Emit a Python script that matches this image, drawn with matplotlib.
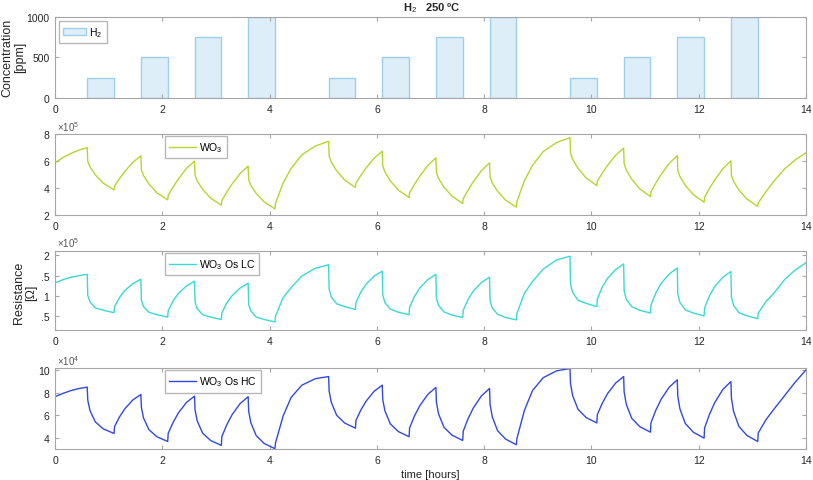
import numpy as np
import matplotlib
matplotlib.use("Agg")
import matplotlib.pyplot as plt

# H2 pulses: start time [h], duration [h], concentration [ppm]
pulse_start = [0.6, 1.6, 2.6, 3.6, 5.1, 6.1, 7.1, 8.1, 9.6, 10.6, 11.6, 12.6]
pulse_len = [0.5] * 12
pulse_ppm = [250, 500, 750, 1000, 250, 500, 750, 1000, 250, 500, 750, 1000]

# sampled time axis [h], shared by the three sensors
time_h = [
    0, 0.15, 0.3, 0.45, 0.6,
    0.61, 0.65, 0.75, 0.9, 1.1,
    1.11, 1.2, 1.3, 1.45, 1.6,
    1.61, 1.65, 1.75, 1.9, 2.1,
    2.11, 2.2, 2.3, 2.45, 2.6,
    2.61, 2.65, 2.75, 2.9, 3.1,
    3.11, 3.2, 3.3, 3.45, 3.6,
    3.61, 3.65, 3.75, 3.9, 4.1,
    4.11, 4.25, 4.4, 4.6, 4.85, 5.1,
    5.11, 5.15, 5.25, 5.4, 5.6,
    5.61, 5.7, 5.8, 5.95, 6.1,
    6.11, 6.15, 6.25, 6.4, 6.6,
    6.61, 6.7, 6.8, 6.95, 7.1,
    7.11, 7.15, 7.25, 7.4, 7.6,
    7.61, 7.7, 7.8, 7.95, 8.1,
    8.11, 8.15, 8.25, 8.4, 8.6,
    8.61, 8.75, 8.9, 9.1, 9.35, 9.6,
    9.61, 9.65, 9.75, 9.9, 10.1,
    10.11, 10.2, 10.3, 10.45, 10.6,
    10.61, 10.65, 10.75, 10.9, 11.1,
    11.11, 11.2, 11.3, 11.45, 11.6,
    11.61, 11.65, 11.75, 11.9, 12.1,
    12.11, 12.2, 12.3, 12.45, 12.6,
    12.61, 12.65, 12.75, 12.9, 13.1,
    13.11, 13.25, 13.4, 13.6, 13.8, 14.0,
]

# WO3 resistance, x1e5 Ohm
wo3 = [
    5.85, 6.25, 6.55, 6.8, 6.97,
    5.97, 5.57, 4.97, 4.35, 3.85,
    4.15, 4.68, 5.21, 5.89, 6.37,
    5.33, 4.91, 4.29, 3.64, 3.12,
    3.46, 4.06, 4.66, 5.44, 5.98,
    4.94, 4.52, 3.90, 3.25, 2.73,
    3.08, 3.68, 4.29, 5.06, 5.61,
    4.60, 4.19, 3.59, 2.96, 2.45,
    2.85, 4.35, 5.44, 6.44, 7.09, 7.44,
    6.35, 5.91, 5.26, 4.58, 4.04,
    4.36, 4.92, 5.48, 6.20, 6.71,
    5.62, 5.17, 4.52, 3.84, 3.29,
    3.64, 4.26, 4.87, 5.66, 6.22,
    5.14, 4.70, 4.06, 3.39, 2.85,
    3.21, 3.84, 4.47, 5.28, 5.85,
    4.80, 4.38, 3.76, 3.10, 2.58,
    2.99, 4.53, 5.66, 6.68, 7.35, 7.71,
    6.58, 6.12, 5.44, 4.74, 4.17,
    4.50, 5.08, 5.66, 6.41, 6.93,
    5.79, 5.32, 4.65, 3.93, 3.36,
    3.72, 4.36, 5.00, 5.81, 6.39,
    5.29, 4.84, 4.19, 3.50, 2.95,
    3.32, 3.96, 4.60, 5.42, 6.00,
    4.92, 4.48, 3.84, 3.17, 2.63,
    2.90, 3.70, 4.49, 5.40, 6.07, 6.59,
]

# WO3 Os LC resistance, x1e5 Ohm
wo3_lc = [
    1.32, 1.40, 1.46, 1.50, 1.53,
    1.01, 0.85, 0.70, 0.64, 0.58,
    0.73, 0.95, 1.13, 1.30, 1.41,
    0.89, 0.73, 0.59, 0.53, 0.47,
    0.63, 0.87, 1.06, 1.24, 1.36,
    0.84, 0.68, 0.53, 0.47, 0.41,
    0.57, 0.82, 1.00, 1.19, 1.31,
    0.78, 0.62, 0.47, 0.41, 0.35,
    0.49, 0.95, 1.20, 1.49, 1.68, 1.77,
    1.16, 0.97, 0.80, 0.73, 0.66,
    0.83, 1.09, 1.29, 1.49, 1.61,
    1.02, 0.83, 0.67, 0.59, 0.53,
    0.71, 0.98, 1.19, 1.40, 1.53,
    0.94, 0.76, 0.60, 0.52, 0.46,
    0.64, 0.91, 1.12, 1.33, 1.46,
    0.88, 0.70, 0.54, 0.46, 0.40,
    0.56, 1.06, 1.35, 1.66, 1.89, 1.98,
    1.29, 1.08, 0.89, 0.81, 0.73,
    0.92, 1.21, 1.43, 1.65, 1.79,
    1.12, 0.91, 0.73, 0.64, 0.57,
    0.77, 1.07, 1.31, 1.54, 1.69,
    1.04, 0.83, 0.65, 0.57, 0.50,
    0.70, 1.00, 1.23, 1.46, 1.60,
    0.96, 0.76, 0.58, 0.50, 0.43,
    0.57, 0.85, 1.06, 1.40, 1.64, 1.82,
]

# WO3 Os HC resistance, x1e4 Ohm
wo3_hc = [
    7.65, 7.95, 8.20, 8.38, 8.50,
    7.35, 6.44, 5.41, 4.79, 4.38,
    5.00, 5.84, 6.57, 7.36, 7.85,
    6.68, 5.76, 4.72, 4.09, 3.67,
    4.40, 5.36, 6.21, 7.14, 7.70,
    6.47, 5.51, 4.42, 3.76, 3.32,
    4.10, 5.14, 6.05, 7.04, 7.65,
    6.36, 5.34, 4.19, 3.49, 3.03,
    3.54, 5.91, 7.58, 8.67, 9.25, 9.44,
    8.15, 7.15, 6.00, 5.31, 4.85,
    5.54, 6.46, 7.26, 8.14, 8.68,
    7.39, 6.39, 5.24, 4.55, 4.09,
    4.88, 5.93, 6.85, 7.86, 8.47,
    7.15, 6.12, 4.94, 4.23, 3.76,
    4.59, 5.70, 6.67, 7.73, 8.38,
    6.98, 5.88, 4.63, 3.88, 3.38,
    3.92, 6.43, 8.19, 9.34, 9.95, 10.15,
    8.80, 7.74, 6.53, 5.80, 5.32,
    6.06, 7.05, 7.92, 8.86, 9.44,
    8.06, 6.97, 5.74, 4.99, 4.50,
    5.34, 6.45, 7.43, 8.50, 9.15,
    7.70, 6.56, 5.27, 4.49, 3.97,
    4.88, 6.08, 7.14, 8.30, 9.00,
    7.51, 6.34, 5.00, 4.20, 3.67,
    4.43, 5.58, 6.53, 7.74, 8.95, 10.03,
]

plt.rcParams["font.family"] = ["Liberation Sans", "DejaVu Sans"]
plt.rcParams["mathtext.fontset"] = "custom"
plt.rcParams["mathtext.rm"] = "Liberation Sans"

frame_col = "#A6A6A6"
text_col = "#262626"

fig = plt.figure(figsize=(8.13, 4.81), dpi=100)
left, width = 0.0677, 0.9237
ax1 = fig.add_axes([left, 0.7942, width, 0.1684])
ax2 = fig.add_axes([left, 0.5509, width, 0.1690])
ax3 = fig.add_axes([left, 0.3119, width, 0.1650])
ax4 = fig.add_axes([left, 0.0644, width, 0.1684])

for ax in (ax1, ax2, ax3, ax4):
    ax.set_xlim(0, 14)
    ax.set_xticks(np.arange(0, 15, 2))
    ax.tick_params(direction="in", top=True, right=True, length=3,
                   color=frame_col, labelcolor=text_col, labelsize=7.5, pad=4)
    for sp in ax.spines.values():
        sp.set_color(frame_col)
        sp.set_linewidth(0.8)

# concentration bars
ax1.bar(pulse_start, pulse_ppm, width=pulse_len, align="edge",
        color="#DDEEF9", edgecolor="#9CCFEA", linewidth=1.0, label="H$_2$")
ax1.set_ylim(0, 1000)
ax1.set_yticks([0, 500, 1000])
ax1.legend(loc="upper left", fontsize=7.5, frameon=True, fancybox=False,
           edgecolor=frame_col, borderaxespad=0.4, handlelength=2.2,
           handletextpad=0.3, borderpad=0.4)

series = [
    (ax2, wo3, "#B4D630", "WO$_3$", (2, 8), [2, 4, 6, 8], None, 5),
    (ax3, wo3_lc, "#3AD9D2", "WO$_3$ Os LC", (0.15, 2.12),
     [0.5, 1, 1.5, 2], [".5", "1", ".5", "2"], 5),
    (ax4, wo3_hc, "#3149E3", "WO$_3$ Os HC", (3.0, 10.2),
     [4, 6, 8, 10], None, 4),
]
for ax, vals, col, lab, ylim, yt, ytl, exp in series:
    ax.plot(time_h, vals, color=col, linewidth=1.0, label=lab)
    ax.set_ylim(*ylim)
    ax.set_yticks(yt)
    if ytl:
        ax.set_yticklabels(ytl)
    ax.text(0.002, 1.015, r"$\times$10$^{%d}$" % exp, transform=ax.transAxes,
            fontsize=7, color="#555555", va="bottom", ha="left")
    ax.legend(loc="upper left", bbox_to_anchor=(0.146, 0.97), fontsize=7.5,
              frameon=True, fancybox=False, edgecolor=frame_col,
              borderaxespad=0.0, handlelength=2.6, handletextpad=0.3,
              borderpad=0.4)

fig.text(0.531, 0.983, "H$_2$   250 ºC", ha="center", va="center",
         fontsize=8, fontweight="bold", color=text_col)
fig.text(0.017, 0.88, "Concentration\n[ppm]", rotation=90, ha="center",
         va="center", fontsize=9, color=text_col, linespacing=1.0)
fig.text(0.031, 0.392, "Resistance\n[Ω]", rotation=90, ha="center",
         va="center", fontsize=9, color=text_col, linespacing=1.0)
ax4.set_xlabel("time [hours]", fontsize=8, color=text_col, labelpad=3)

fig.savefig("out.png", dpi=100)
